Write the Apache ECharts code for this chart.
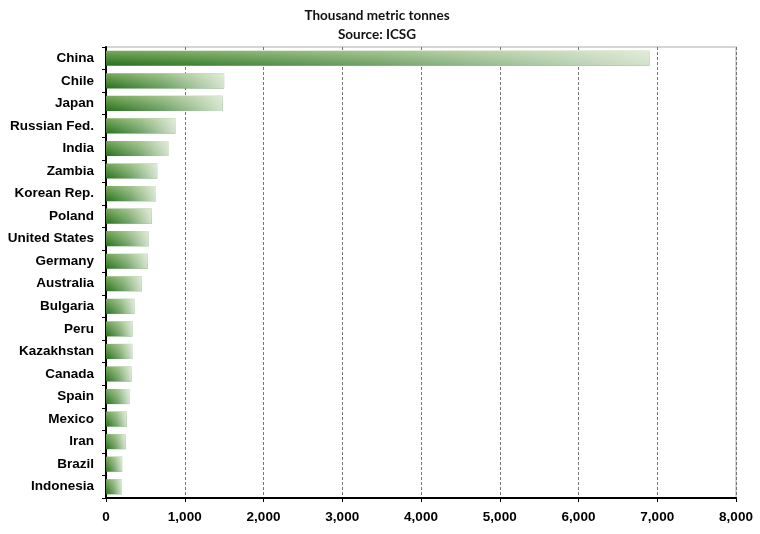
<!DOCTYPE html>
<html>
<head>
<meta charset="utf-8">
<script src="https://cdn.jsdelivr.net/npm/echarts@6/dist/echarts.min.js"></script>
<style>html,body{margin:0;padding:0;background:#fff;}#c{width:760px;height:534px;}</style>
</head>
<body>
<div id="c"></div>
<script>
const categories = ["China","Chile","Japan","Russian Fed.","India","Zambia","Korean Rep.","Poland","United States","Germany","Australia","Bulgaria","Peru","Kazakhstan","Canada","Spain","Mexico","Iran","Brazil","Indonesia"];
const values = [6900,1500,1480,880,800,650,635,580,545,530,455,360,335,333,322,296,262,250,205,203];
const titleLines = ["Thousand metric tonnes","Source: ICSG"];

const chart = echarts.init(document.getElementById('c'));
const baseGrad = new echarts.graphic.LinearGradient(0, 0, 0, 1, [
  {offset: 0, color: '#78a85a'},
  {offset: 1, color: '#24701b'}
]);
const fadeGrad = new echarts.graphic.LinearGradient(0, 0, 1, 0, [
  {offset: 0, color: 'rgba(248,251,244,0)'},
  {offset: 0.5, color: 'rgba(248,251,244,0.35)'},
  {offset: 1, color: 'rgba(248,251,244,0.82)'}
]);
chart.setOption({
  animation: false,
  title: {
    text: titleLines.join('\n'),
    left: 372, top: 1, textAlign: 'center',
    textStyle: {fontFamily: 'Lato', fontWeight: 'bold', fontSize: 13.5, color: '#111', lineHeight: 19}
  },
  grid: {left: 106, right: 24, top: 47, bottom: 36, show: true, borderColor: '#c8c8c8', borderWidth: 1.5},
  xAxis: {
    type: 'value', min: 0, max: 8000, interval: 1000,
    axisLine: {show: true, lineStyle: {color: '#000', width: 2}},
    axisTick: {show: true, length: 4, lineStyle: {color: '#000'}},
    axisLabel: {
      color: '#000', fontFamily: 'Arial', fontWeight: 'bold', fontSize: 13.5, margin: 12,
      formatter: v => v.toLocaleString('en-US')
    },
    splitLine: {show: true, lineStyle: {color: '#777', type: [3, 2], width: 1}}
  },
  yAxis: {
    type: 'category', data: categories, inverse: true,
    axisLine: {show: true, lineStyle: {color: '#000', width: 2}},
    axisTick: {show: true, length: 4, lineStyle: {color: '#000'}},
    axisLabel: {color: '#000', fontFamily: 'Arial', fontWeight: 'bold', fontSize: 13.5, margin: 12}
  },
  series: [
    {type: 'bar', data: values, barCategoryGap: '33%', barGap: '-100%', itemStyle: {color: baseGrad}},
    {type: 'bar', data: values, barCategoryGap: '33%', barGap: '-100%', silent: true, itemStyle: {color: fadeGrad}}
  ]
});
</script>
</body>
</html>
